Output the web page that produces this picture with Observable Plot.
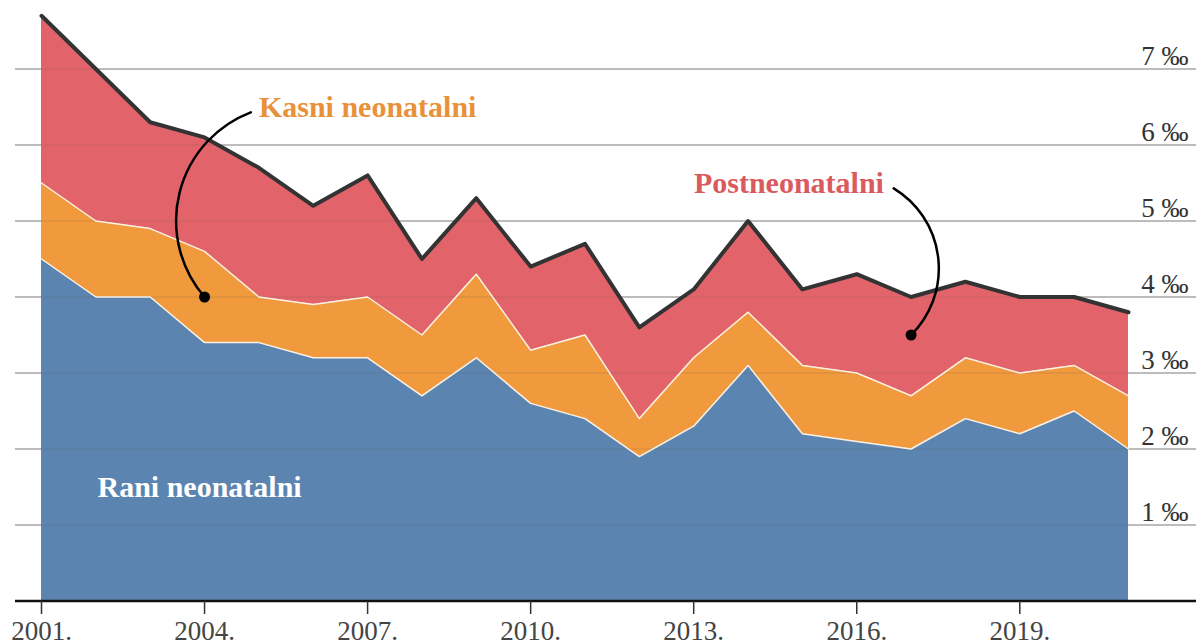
<!DOCTYPE html>
<html>
<head>
<meta charset="utf-8">
<script src="https://cdn.jsdelivr.net/npm/d3@7"></script>
<script src="https://cdn.jsdelivr.net/npm/@observablehq/plot@0.6"></script>
<style>
  html, body { margin: 0; padding: 0; background: #fff; }
  #chart svg { display: block; }
</style>
</head>
<body>
<div id="chart"></div>
<script>
// ---- Data (‰, infant mortality components) ----
const years = [2001, 2002, 2003, 2004, 2005, 2006, 2007, 2008, 2009, 2010, 2011,
               2012, 2013, 2014, 2015, 2016, 2017, 2018, 2019, 2020, 2021];
const rani  = [4.5, 4.0, 4.0, 3.4, 3.4, 3.2, 3.2, 2.7, 3.2, 2.6, 2.4, 1.9, 2.3, 3.1, 2.2, 2.1, 2.0, 2.4, 2.2, 2.5, 2.0];
const kasni = [1.0, 1.0, 0.9, 1.2, 0.6, 0.7, 0.8, 0.8, 1.1, 0.7, 1.1, 0.5, 0.9, 0.7, 0.9, 0.9, 0.7, 0.8, 0.8, 0.6, 0.7];
const post  = [2.2, 2.0, 1.4, 1.5, 1.7, 1.3, 1.6, 1.0, 1.0, 1.1, 1.2, 1.2, 0.9, 1.2, 1.0, 1.3, 1.3, 1.0, 1.0, 0.9, 1.1];
const seriesNames = ["Rani neonatalni", "Kasni neonatalni", "Postneonatalni"];
const seriesColors = ["#5c84b0", "#f0993d", "#e2646a"];
const xTicks = [2001, 2004, 2007, 2010, 2013, 2016, 2019];
const yTicks = [1, 2, 3, 4, 5, 6, 7];

// long table for stacking
const rows = [];
[rani, kasni, post].forEach((arr, s) => {
  arr.forEach((v, i) => rows.push({year: years[i], value: v, type: seriesNames[s]}));
});
// cumulative boundaries for edge lines
const edge1 = years.map((y, i) => ({year: y, v: rani[i]}));
const edge2 = years.map((y, i) => ({year: y, v: rani[i] + kasni[i]}));
const edgeTop = years.map((y, i) => ({year: y, v: rani[i] + kasni[i] + post[i]}));

const plot = Plot.plot({
  width: 1196,
  height: 641,
  marginLeft: 15,
  marginRight: 0,
  marginTop: 0,
  marginBottom: 40,
  style: {fontFamily: "'Liberation Serif', 'Times New Roman', serif", background: "#fff"},
  x: {domain: [2001, 2021], range: [41, 1128], axis: null},
  y: {domain: [0, 7], range: [600.5, 68.5], axis: null},
  color: {domain: seriesNames, range: seriesColors},
  marks: [
    Plot.ruleY(yTicks, {stroke: "#b5b5b5", strokeWidth: 1.5}),
    Plot.areaY(rows, {x: "year", y: "value", fill: "type"}),
    Plot.ruleY(yTicks, {stroke: "#555", strokeOpacity: 0.12, strokeWidth: 1.5}),
    Plot.lineY(edge1, {x: "year", y: "v", stroke: "#fbf1e2", strokeWidth: 1.5}),
    Plot.lineY(edge2, {x: "year", y: "v", stroke: "#fbf1e2", strokeWidth: 1.5}),
    Plot.lineY(edgeTop, {x: "year", y: "v", stroke: "#333", strokeWidth: 4}),
    Plot.ruleY([0], {stroke: "#111", strokeWidth: 2.5}),
    Plot.axisX(xTicks, {
      tickSize: 13, tickPadding: 6, tickFormat: d => `${d}.`,
      fontSize: 27, stroke: "#333", strokeWidth: 1.5, fill: "#444"
    }),
    Plot.text(yTicks, {
      y: d => d, text: d => `${d} ‰`, frameAnchor: "right",
      textAnchor: "end", lineAnchor: "bottom", dx: -8, dy: -4,
      fontSize: 27, fill: "#333"
    }),
    // annotations
    Plot.arrow([{x1: 2004.85, y1: 6.43, x2: 2004, y2: 4.0}], {
      x1: "x1", y1: "y1", x2: "x2", y2: "y2", bend: -55, headLength: 0,
      stroke: "#000", strokeWidth: 2.5
    }),
    Plot.arrow([{x1: 2016.68, y1: 5.43, x2: 2017, y2: 3.5}], {
      x1: "x1", y1: "y1", x2: "x2", y2: "y2", bend: 52, headLength: 0,
      stroke: "#000", strokeWidth: 2.5
    }),
    Plot.dot([{x: 2004, y: 4.0}, {x: 2017, y: 3.5}], {x: "x", y: "y", r: 5.5, fill: "#000"}),
    Plot.text([{x: 2005, y: 6.5, t: "Kasni neonatalni"}], {
      x: "x", y: "y", text: "t", textAnchor: "start", fontSize: 30, fontWeight: "bold", fill: "#e8913a"
    }),
    Plot.text([{x: 2016.5, y: 5.5, t: "Postneonatalni"}], {
      x: "x", y: "y", text: "t", textAnchor: "end", fontSize: 30, fontWeight: "bold", fill: "#da5a60"
    }),
    Plot.text([{x: 2002.03, y: 1.5, t: "Rani neonatalni"}], {
      x: "x", y: "y", text: "t", textAnchor: "start", fontSize: 30, fontWeight: "bold", fill: "#fff"
    })
  ]
});
document.getElementById("chart").appendChild(plot);
</script>
</body>
</html>
